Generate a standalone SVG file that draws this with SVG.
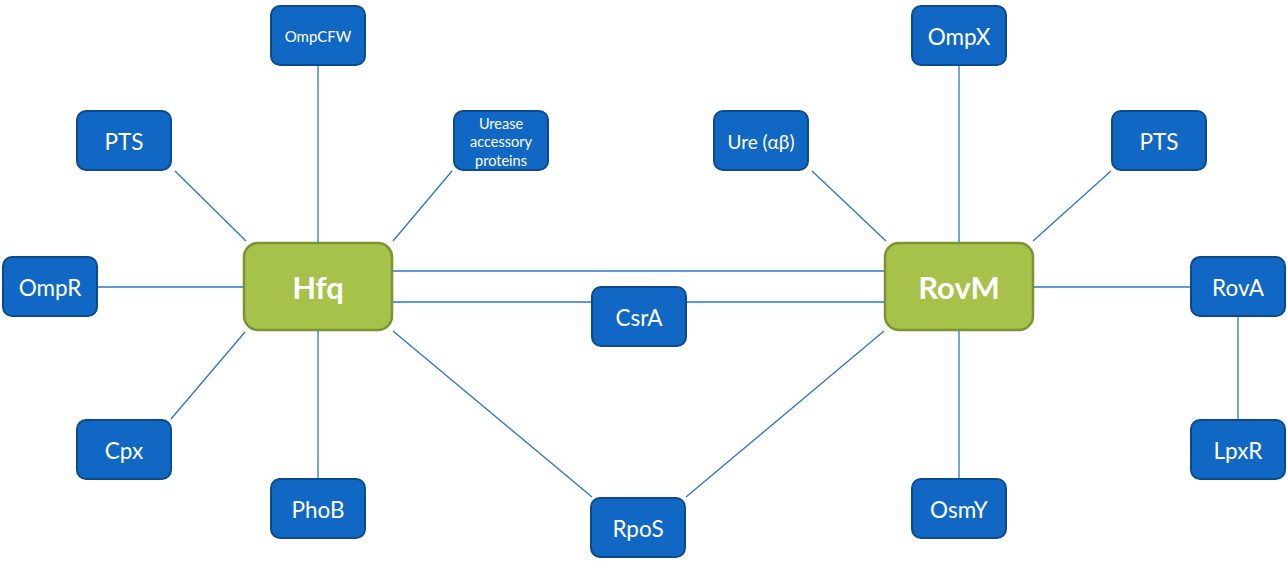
<svg xmlns="http://www.w3.org/2000/svg" width="1287" height="561" viewBox="0 0 1287 561">
  <style>
    .box { fill: #1167c4; stroke: #0c4a8a; stroke-width: 2; }
    .hub { fill: #a6c24a; stroke: #7a9433; stroke-width: 2.5; }
    .lbl { font-family: Lato, "Open Sans", sans-serif; fill: #ffffff; text-anchor: middle; dominant-baseline: central; font-size: 22.5px; }
    .hubl { font-family: Lato, "Open Sans", sans-serif; fill: #ffffff; text-anchor: middle; dominant-baseline: central; font-size: 31px; font-weight: bold; }
    .edge { stroke: #2b74c9; stroke-width: 1.3; fill: none; }
  </style>
  <rect width="1287" height="561" fill="#ffffff"/>

  <g id="connectors">
    <line class="edge" x1="318" y1="65" x2="318" y2="243"/>
    <line class="edge" x1="175" y1="171" x2="246" y2="241"/>
    <line class="edge" x1="452" y1="171" x2="393" y2="241"/>
    <line class="edge" x1="97" y1="287" x2="244" y2="287"/>
    <line class="edge" x1="171" y1="419" x2="245" y2="332"/>
    <line class="edge" x1="318" y1="330" x2="318" y2="479"/>
    <line class="edge" x1="392" y1="271" x2="885" y2="271"/>
    <line class="edge" x1="392" y1="302" x2="592" y2="302"/>
    <line class="edge" x1="686" y1="302" x2="885" y2="302"/>
    <line class="edge" x1="393" y1="331" x2="592" y2="497"/>
    <line class="edge" x1="884" y1="331" x2="686" y2="497"/>
    <line class="edge" x1="812" y1="171" x2="886" y2="241"/>
    <line class="edge" x1="959" y1="65" x2="959" y2="243"/>
    <line class="edge" x1="1111" y1="171" x2="1033" y2="241"/>
    <line class="edge" x1="1033" y1="287" x2="1191" y2="287"/>
    <line class="edge" x1="1238" y1="316" x2="1238" y2="420"/>
    <line class="edge" x1="959" y1="330" x2="959" y2="479"/>
  </g>

  <g id="hfq">
    <rect class="hub" x="244" y="243" width="148" height="87" rx="14"/>
    <text class="hubl" x="318" y="287">Hfq</text>
  </g>
  <g id="rovm">
    <rect class="hub" x="885" y="243" width="148" height="87" rx="14"/>
    <text class="hubl" x="959" y="287">RovM</text>
  </g>

  <g id="ompcfw">
    <rect class="box" x="271" y="6" width="94" height="59" rx="9"/>
    <text class="lbl" x="318" y="36" style="font-size:15px">OmpCFW</text>
  </g>
  <g id="pts-left">
    <rect class="box" x="77" y="111" width="94" height="59" rx="9"/>
    <text class="lbl" x="124" y="141">PTS</text>
  </g>
  <g id="urease">
    <rect class="box" x="454" y="111" width="94" height="59" rx="9"/>
    <text class="lbl" x="501" y="123" style="font-size:14.5px">Urease</text>
    <text class="lbl" x="501" y="141" style="font-size:14.5px">accessory</text>
    <text class="lbl" x="501" y="160" style="font-size:14.5px">proteins</text>
  </g>
  <g id="ompr">
    <rect class="box" x="3" y="257" width="94" height="59" rx="9"/>
    <text class="lbl" x="50" y="287">OmpR</text>
  </g>
  <g id="cpx">
    <rect class="box" x="77" y="420" width="94" height="59" rx="9"/>
    <text class="lbl" x="124" y="450">Cpx</text>
  </g>
  <g id="phob">
    <rect class="box" x="271" y="479" width="94" height="59" rx="9"/>
    <text class="lbl" x="318" y="509">PhoB</text>
  </g>
  <g id="csra">
    <rect class="box" x="592" y="287" width="94" height="59" rx="9"/>
    <text class="lbl" x="639" y="317">CsrA</text>
  </g>
  <g id="rpos">
    <rect class="box" x="591" y="498" width="94" height="59" rx="9"/>
    <text class="lbl" x="638" y="528">RpoS</text>
  </g>
  <g id="ure-ab">
    <rect class="box" x="714" y="111" width="94" height="59" rx="9"/>
    <text class="lbl" x="761" y="141" style="font-size:19px">Ure (αβ)</text>
  </g>
  <g id="ompx">
    <rect class="box" x="912" y="6" width="94" height="59" rx="9"/>
    <text class="lbl" x="959" y="36">OmpX</text>
  </g>
  <g id="pts-right">
    <rect class="box" x="1112" y="111" width="94" height="59" rx="9"/>
    <text class="lbl" x="1159" y="141">PTS</text>
  </g>
  <g id="rova">
    <rect class="box" x="1191" y="257" width="94" height="59" rx="9"/>
    <text class="lbl" x="1238" y="287">RovA</text>
  </g>
  <g id="lpxr">
    <rect class="box" x="1191" y="420" width="94" height="59" rx="9"/>
    <text class="lbl" x="1238" y="450">LpxR</text>
  </g>
  <g id="osmy">
    <rect class="box" x="912" y="479" width="94" height="59" rx="9"/>
    <text class="lbl" x="959" y="509">OsmY</text>
  </g>
</svg>
